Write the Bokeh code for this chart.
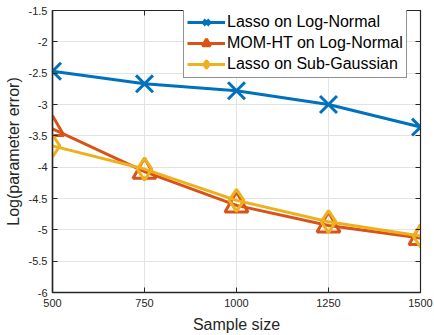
from bokeh.plotting import figure
from bokeh.models import (LinearAxis, FixedTicker, Range1d, Legend, LegendItem,
                          GlobalInlineStyleSheet)
from bokeh.embed import file_html
from bokeh.resources import INLINE

sample_size = [500, 750, 1000, 1250, 1500]
lasso_lognormal = [-2.47, -2.67, -2.78, -3.0, -3.36]
momht_lognormal = [-3.39, -4.07, -4.61, -4.93, -5.13]
lasso_subgauss = [-3.66, -4.03, -4.53, -4.87, -5.10]

x_ticks = [500, 750, 1000, 1250, 1500]
y_ticks = [-6, -5.5, -5, -4.5, -4, -3.5, -3, -2.5, -2, -1.5]
y_tick_labels = ["-6", "-5.5", "-5", "-4.5", "-4", "-3.5", "-3", "-2.5", "-2", "-1.5"]

series_names = ["Lasso on Log-Normal", "MOM-HT on Log-Normal", "Lasso on Sub-Gaussian"]
colors = ["#0072BD", "#D95319", "#EDB120"]
markers = ["x", "triangle", "diamond"]
marker_sizes = [24, 23, 22]

FONT = "Liberation Sans"
AX = "#262626"

p = figure(width=434, height=335, output_backend="svg", toolbar_location=None,
           x_range=Range1d(500, 1500), y_range=Range1d(-6, -1.5),
           min_border_left=52, min_border_right=14, min_border_top=10,
           min_border_bottom=40)
p.stylesheets = [GlobalInlineStyleSheet(css="body{margin:0 !important;}")]

p.outline_line_color = AX
p.outline_line_width = 1.2
p.background_fill_color = "white"

xt = FixedTicker(ticks=x_ticks)
yt = FixedTicker(ticks=y_ticks)
overrides = {v: s for v, s in zip(y_ticks, y_tick_labels)}

p.xaxis.ticker = xt
p.yaxis.ticker = yt
p.yaxis.major_label_overrides = overrides
for ax in (p.xaxis[0], p.yaxis[0]):
    ax.axis_line_color = AX
    ax.axis_line_width = 1.5
    ax.major_tick_line_color = AX
    ax.major_tick_in = 5
    ax.major_tick_out = 0
    ax.minor_tick_line_color = None
    ax.major_label_text_font = FONT
    ax.major_label_text_font_size = "11px"
    ax.major_label_text_color = AX
    ax.axis_label_text_font = FONT
    ax.axis_label_text_font_size = "16px"
    ax.axis_label_text_font_style = "normal"
    ax.axis_label_text_color = AX
p.xaxis.major_label_standoff = 6
p.yaxis.major_label_standoff = 5
p.xaxis.axis_label = "Sample size"
p.yaxis.axis_label = "Log(parameter error)"
p.xaxis.axis_label_standoff = 6
p.yaxis.axis_label_standoff = 4

for loc, tk, ticks in (("right", yt, y_ticks), ("above", xt, x_ticks)):
    a = LinearAxis(ticker=tk)
    a.major_label_overrides = {t: "" for t in ticks}
    a.major_label_standoff = 0
    a.axis_line_color = AX
    a.major_tick_line_color = AX
    a.major_tick_in = 5
    a.major_tick_out = 0
    a.minor_tick_line_color = None
    p.add_layout(a, loc)

p.xgrid.ticker = xt
p.ygrid.ticker = yt
p.xgrid.grid_line_color = "#e3e3e3"
p.ygrid.grid_line_color = "#e3e3e3"

ys = [lasso_lognormal, momht_lognormal, lasso_subgauss]
items = []
for name, y, c, m, s in zip(series_names, ys, colors, markers, marker_sizes):
    r1 = p.line(sample_size, y, line_color=c, line_width=3)
    r2 = p.scatter(sample_size, y, marker=m, size=s, line_color=c, line_width=3,
                   fill_color=None)
    items.append(LegendItem(label=name, renderers=[r1, r2]))

legend = Legend(items=items, location=(131, 214))
legend.label_text_font = FONT
legend.label_text_font_size = "16px"
legend.label_text_color = "black"
legend.glyph_width = 38
legend.glyph_height = 20
legend.label_height = 20
legend.label_standoff = 2
legend.spacing = 1
legend.padding = 3
legend.margin = 0
legend.border_line_color = "#262626"
legend.border_line_width = 1
legend.background_fill_color = "white"
legend.background_fill_alpha = 1
p.add_layout(legend, "center")

open("out.html", "w").write(file_html(p, INLINE))
